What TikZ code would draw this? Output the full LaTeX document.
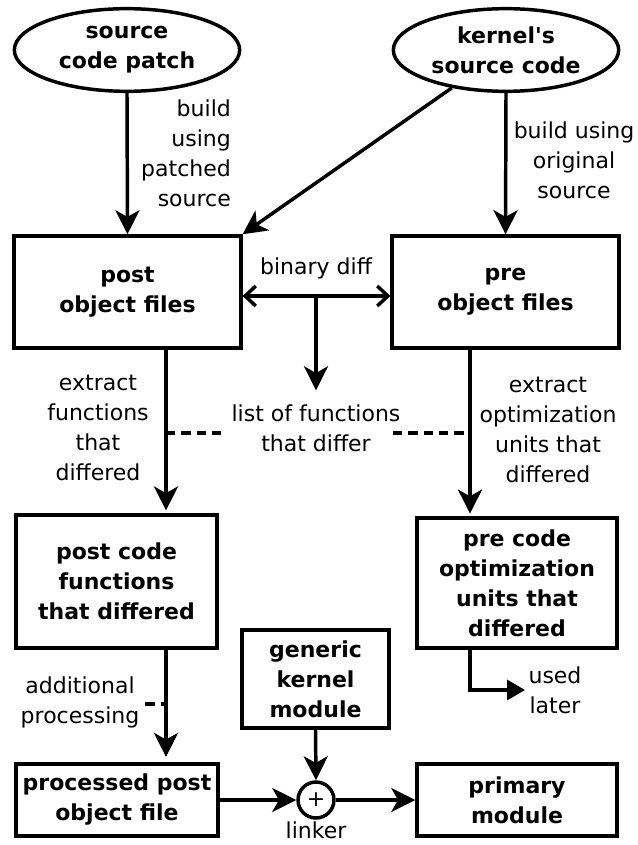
\documentclass[tikz,border=0pt]{standalone}
\usepackage{fontspec}
\setmainfont{DejaVu Sans}
\usetikzlibrary{arrows.meta,shapes.geometric}

\begin{document}
\begin{tikzpicture}[
      x=0.75pt,y=-0.75pt,
      line width=2.6pt,
      every node/.style={
        font=\fontsize{16.5}{22.5}\selectfont,
        align=center
      },
      bron/.style={
        ellipse,
        draw,
        line width=2.6pt,
        inner sep=0pt,
        minimum width=169pt,
        minimum height=62pt,
        font=\fontsize{16.5}{22.5}\selectfont\bfseries
      },
      blok/.style={
        rectangle,
        draw,
        line width=2.6pt,
        inner sep=0pt,
        font=\fontsize{16.5}{22.5}\selectfont\bfseries
      },
      pijl/.style={-{Stealth[length=18pt,width=18pt,inset=5pt]}},
      diff/.style={{Straight Barb[length=8pt,width=15pt]}-{Straight Barb[length=8pt,width=15pt]}},
      later/.style={-{Triangle[length=13.5pt,width=15pt]}},
      stip/.style={dash pattern=on 7pt off 4.5pt}
    ]
      \useasboundingbox (0,0) rectangle (637,845);

      \node (e1) at (127,50) [bron]{source\\code patch};
      \node (e2) at (506,50) [bron]{kernel\textquotesingle s\\source code};
      \node (b1) at (127.5,292) [blok,minimum width=170pt,minimum height=84pt]{post\\object files};
      \node (b2) at (505.5,292) [blok,minimum width=170pt,minimum height=84pt]{pre\\object files};
      \node (b3) at (116.5,581.5) [blok,minimum width=150.75pt,minimum height=100pt]{post code\\functions\\that differed};
      \node (b4) at (517,583) [blok,minimum width=150pt,minimum height=97.5pt]{pre code\\optimization\\units that\\differed};
      \node (b5) at (315.5,679) [blok,minimum width=110pt,minimum height=73.5pt]{generic\\kernel\\module};
      \node (b6) at (117,800) [blok,minimum width=151.5pt,minimum height=54pt]{processed post\\object file};
      \node (b7) at (517,800) [blok,minimum width=150pt,minimum height=54pt]{primary\\module};
      \node (c1) at (316,800) [circle,draw,inner sep=0pt,minimum size=27pt]{+};

      \node (t1) at (237,153) [anchor=east,align=right]{build\\using\\patched\\source};
      \node (t2) at (574,160) {build using\\original\\source};
      \node (t3) at (316,268) {binary diff};
      \node (t4) at (316,428) {list of functions\\that differ};
      \node (t5) at (98,428) {extract\\functions\\that\\differed};
      \node (t6) at (548,430) {extract\\optimization\\units that\\differed};
      \node (t7) at (555,690) {used\\later};
      \node (t8) at (80,702) {additional\\processing};
      \node (t9) at (316,830) {linker};

      \coordinate (x1) at (166,0);
      \coordinate (x2) at (470,0);
      \coordinate (m1) at (316,296);

      \draw[pijl] (e1.south) -- (b1.north);
      \draw[pijl] (e2) -- (b1.north east);
      \draw[pijl] (e2.south) -- (b2.north);
      \draw[diff] ([yshift=-3pt]b1.east) -- ([yshift=-3pt]b2.west);
      \draw[pijl] (m1) -- ([yshift=6pt]t4.north);
      \draw[pijl] (b1.south -| x1) -- ([yshift=2pt]b3.north -| x1);
      \draw[pijl] (b2.south -| x2) -- ([yshift=2pt]b4.north -| x2);
      \draw[stip] (x1 |- 0,433) -- (222,433);
      \draw[stip] (393,433) -- (x2 |- 0,433);
      \draw[pijl] (b3.south -| x1) -- ([yshift=4pt]b6.north -| x1);
      \draw[stip] ([yshift=-1.5pt]t8.east) -- ([yshift=-1.5pt]t8.east -| x1);
      \draw[later] (b4.south -| x2) |- ([xshift=2pt]t7.west);
      \draw[pijl] (b5.south) -- (c1.north);
      \draw[pijl] (b6.east) -- (c1.west);
      \draw[pijl] (c1.east) -- (b7.west);

    \end{tikzpicture}
\end{document}
